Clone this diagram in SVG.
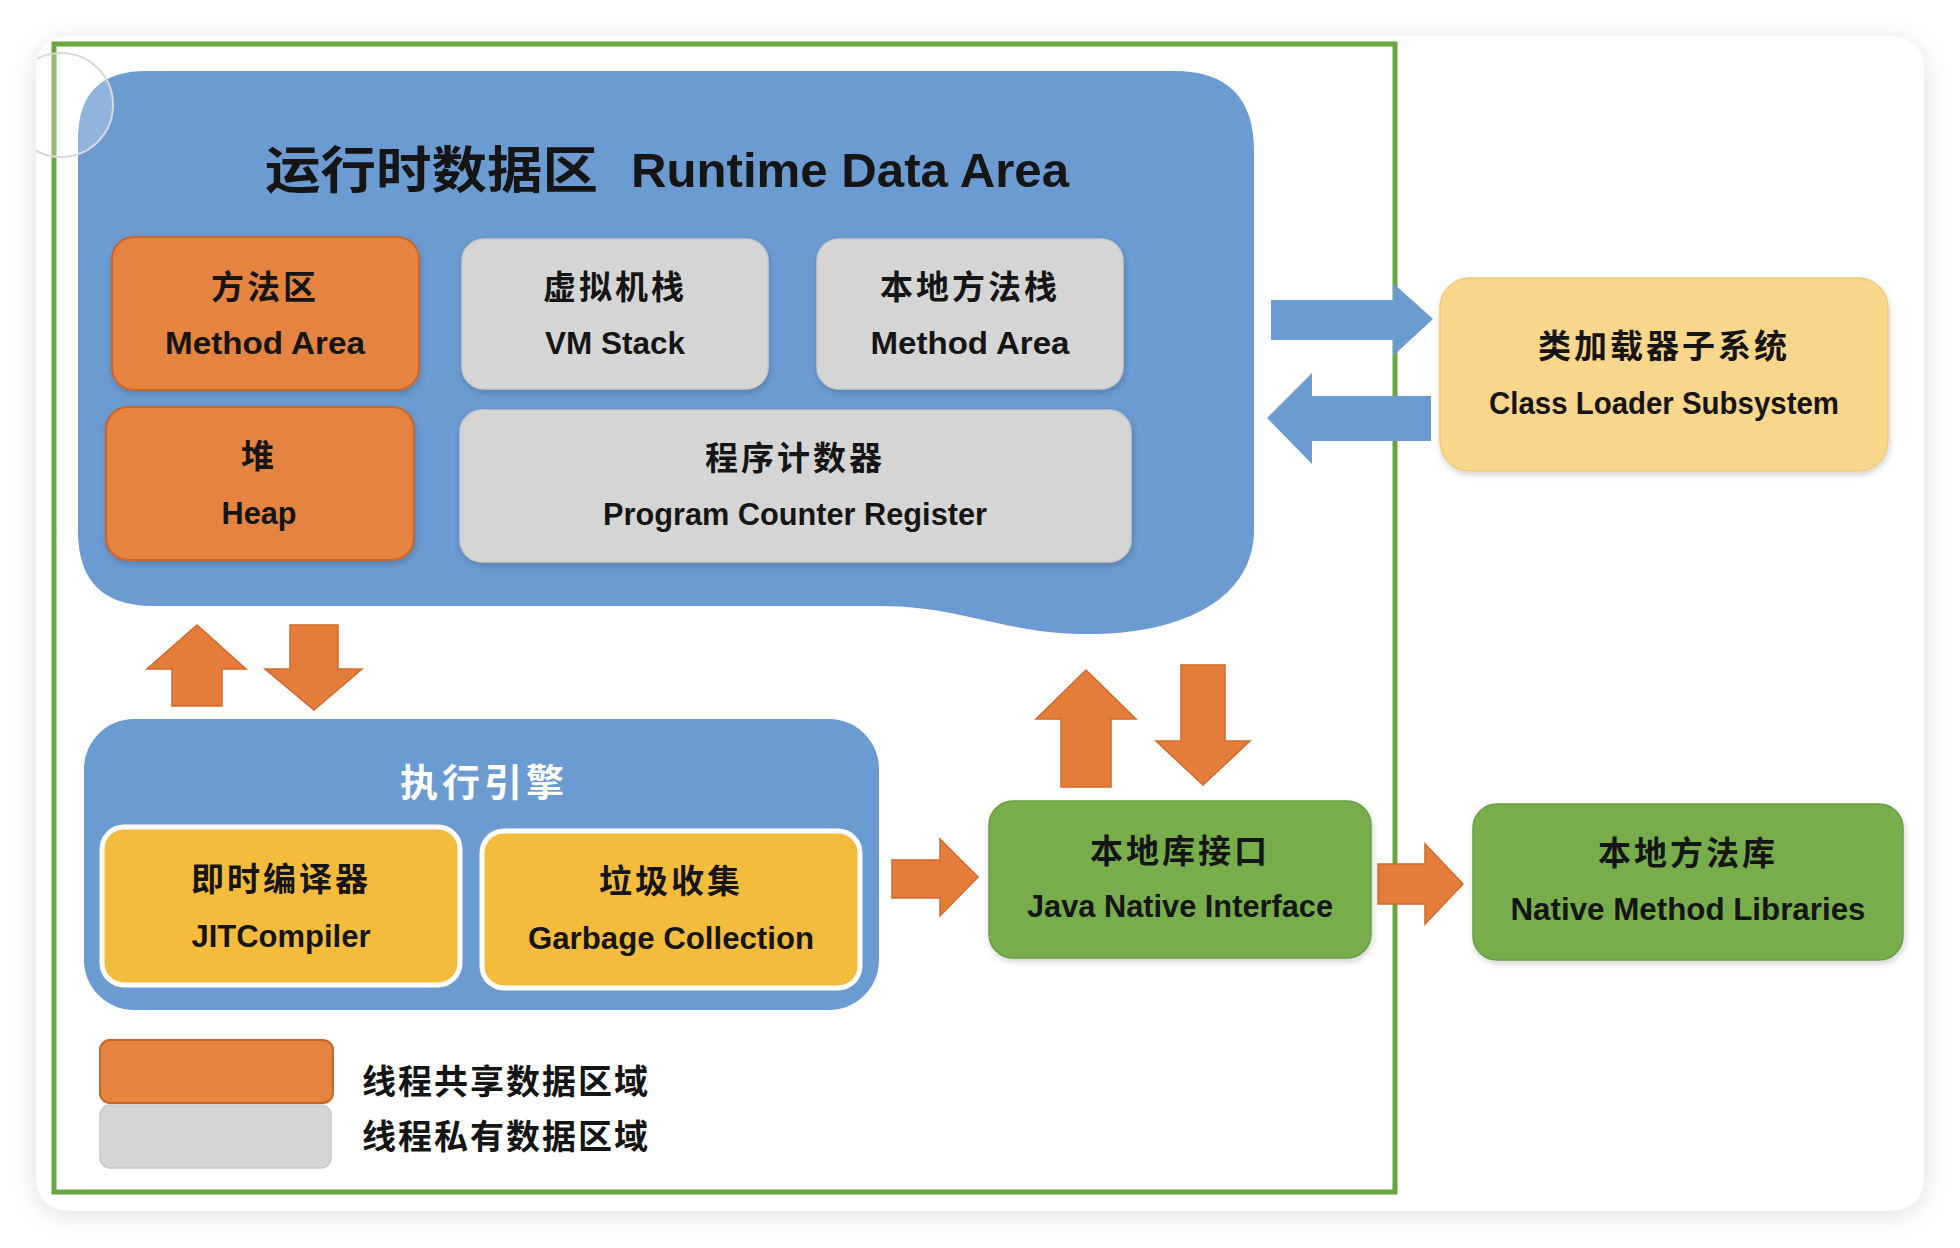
<svg xmlns="http://www.w3.org/2000/svg" width="1960" height="1248" viewBox="0 0 1960 1248">
<defs>
<filter id="cardShadow" x="-5%" y="-8%" width="110%" height="116%">
<feDropShadow dx="0" dy="4" stdDeviation="12" flood-color="#000" flood-opacity="0.13"/>
</filter>
<filter id="soft" x="-10%" y="-10%" width="120%" height="130%">
<feDropShadow dx="1" dy="3" stdDeviation="3" flood-color="#000" flood-opacity="0.18"/>
</filter>
<clipPath id="cardClip"><rect x="36" y="36" width="1888" height="1175" rx="32"/></clipPath>
<style>
.cjk{font-family:"Liberation Sans","Noto Sans CJK SC",sans-serif;font-weight:bold;font-size:33px;letter-spacing:3px;fill:#151515;text-anchor:middle}
.en{font-family:"Liberation Sans","Noto Sans CJK SC",sans-serif;font-weight:bold;font-size:32px;fill:#151515;text-anchor:middle}
.orange{fill:#e5843f;stroke:#c8652a;stroke-width:2}
.gray{fill:#d5d5d5;stroke:#c9c9c9;stroke-width:1.5}
.yellow{fill:#f4bc3d;stroke:#ffffff;stroke-width:5}
.green{fill:#78ad4c;stroke:#6a9e42;stroke-width:1.5}
.loader{fill:#f8d68b;stroke:#f0c978;stroke-width:1.5}
.blue{fill:#6b9bd1}
.arrowO{fill:#e47c3a;stroke:#d06a2c;stroke-width:1.5}
.arrowB{fill:#6b9bd1}
</style>
</defs>
<rect width="1960" height="1248" fill="#ffffff"/>
<rect x="36" y="36" width="1888" height="1175" rx="32" fill="#ffffff" filter="url(#cardShadow)"/>
<rect x="54" y="44" width="1341" height="1148" fill="none" stroke="#6aa63f" stroke-width="5"/>

<g id="runtime-data-area">
<path class="blue" d="M 146,71 H 1174 Q 1254,71 1254,151 V 530 C 1254,600 1180,636 1080,634 C 1000,632 960,606 880,606 H 153 Q 78,606 78,531 V 139 Q 78,71 146,71 Z"/>
<text x="265" y="188" font-family="Liberation Sans,Noto Sans CJK SC,sans-serif" font-weight="bold" font-size="50" fill="#151515" textLength="333" lengthAdjust="spacingAndGlyphs">运行时数据区</text>
<text x="631" y="187" font-family="Liberation Sans,sans-serif" font-weight="bold" font-size="48" fill="#151515" textLength="438" lengthAdjust="spacingAndGlyphs">Runtime Data Area</text>
</g>
<circle cx="61" cy="105" r="52" fill="#ffffff" fill-opacity="0.25" stroke="#d9d9d9" stroke-width="2" clip-path="url(#cardClip)"/>

<g id="method-area">
<rect class="orange" x="112" y="237" width="307" height="153" rx="22" filter="url(#soft)"/>
<text class="cjk" x="265" y="299">方法区</text>
<text class="en" x="265" y="354" textLength="200" lengthAdjust="spacingAndGlyphs">Method Area</text>
</g>
<g id="vm-stack">
<rect class="gray" x="462" y="239" width="306" height="150" rx="22" filter="url(#soft)"/>
<text class="cjk" x="615" y="299">虚拟机栈</text>
<text class="en" x="615" y="354" textLength="140" lengthAdjust="spacingAndGlyphs">VM Stack</text>
</g>
<g id="native-method-stack">
<rect class="gray" x="817" y="239" width="306" height="150" rx="22" filter="url(#soft)"/>
<text class="cjk" x="970" y="299">本地方法栈</text>
<text class="en" x="970" y="354" textLength="199" lengthAdjust="spacingAndGlyphs">Method Area</text>
</g>
<g id="heap">
<rect class="orange" x="106" y="407" width="308" height="153" rx="22" filter="url(#soft)"/>
<text class="cjk" x="259" y="468">堆</text>
<text class="en" x="259" y="524" textLength="75" lengthAdjust="spacingAndGlyphs">Heap</text>
</g>
<g id="program-counter">
<rect class="gray" x="460" y="410" width="671" height="152" rx="22" filter="url(#soft)"/>
<text class="cjk" x="795" y="470">程序计数器</text>
<text class="en" x="795" y="525" textLength="384" lengthAdjust="spacingAndGlyphs">Program Counter Register</text>
</g>

<g id="class-loader">
<rect class="loader" x="1440" y="278" width="448" height="193" rx="30" filter="url(#soft)"/>
<text class="cjk" x="1664" y="358">类加载器子系统</text>
<text class="en" x="1664" y="414" textLength="350" lengthAdjust="spacingAndGlyphs">Class Loader Subsystem</text>
</g>

<g id="execution-engine">
<rect class="blue" x="84" y="719" width="795" height="291" rx="50"/>
<text x="484" y="796" font-family="Liberation Sans,Noto Sans CJK SC,sans-serif" font-weight="bold" font-size="38" letter-spacing="4" fill="#ffffff" text-anchor="middle">执行引擎</text>
</g>
<g id="jit-compiler">
<rect class="yellow" x="102" y="827" width="358" height="158" rx="22"/>
<text class="cjk" x="281" y="891">即时编译器</text>
<text class="en" x="281" y="947" textLength="179" lengthAdjust="spacingAndGlyphs">JITCompiler</text>
</g>
<g id="garbage-collection">
<rect class="yellow" x="482" y="831" width="378" height="157" rx="22"/>
<text class="cjk" x="671" y="893">垃圾收集</text>
<text class="en" x="671" y="949" textLength="286" lengthAdjust="spacingAndGlyphs">Garbage Collection</text>
</g>

<g id="java-native-interface">
<rect class="green" x="989" y="801" width="382" height="157" rx="24" filter="url(#soft)"/>
<text class="cjk" x="1180" y="863">本地库接口</text>
<text class="en" x="1180" y="917" textLength="306" lengthAdjust="spacingAndGlyphs">Java Native Interface</text>
</g>
<g id="native-method-libraries">
<rect class="green" x="1473" y="804" width="430" height="156" rx="24" filter="url(#soft)"/>
<text class="cjk" x="1688" y="865">本地方法库</text>
<text class="en" x="1688" y="920" textLength="355" lengthAdjust="spacingAndGlyphs">Native Method Libraries</text>
</g>

<g id="connectors">
<polygon class="arrowB" points="1271,300 1393,300 1393,283 1433,319 1393,356 1393,340 1271,340"/>
<polygon class="arrowB" points="1431,396 1312,396 1312,373 1267,418 1312,464 1312,441 1431,441"/>
<polygon class="arrowO" points="172,706 172,669 147,669 197,625 246,669 222,669 222,706"/>
<polygon class="arrowO" points="290,625 338,625 338,669 362,669 314,710 265,669 290,669"/>
<polygon class="arrowO" points="1061,787 1061,719 1036,719 1086,670 1136,719 1111,719 1111,787"/>
<polygon class="arrowO" points="1181,665 1225,665 1225,741 1250,741 1203,785 1156,741 1181,741"/>
<polygon class="arrowO" points="892,860 940,860 940,839 978,877 940,916 940,898 892,898"/>
<polygon class="arrowO" points="1378,864 1425,864 1425,844 1463,884 1425,924 1425,904 1378,904"/>
</g>

<g id="legend">
<rect class="orange" x="100" y="1040" width="233" height="63" rx="10"/>
<rect class="gray" x="100" y="1105" width="231" height="63" rx="10"/>
<text x="362" y="1094" font-family="Liberation Sans,Noto Sans CJK SC,sans-serif" font-weight="bold" font-size="34" letter-spacing="2" fill="#151515">线程共享数据区域</text>
<text x="362" y="1149" font-family="Liberation Sans,Noto Sans CJK SC,sans-serif" font-weight="bold" font-size="34" letter-spacing="2" fill="#151515">线程私有数据区域</text>
</g>
</svg>
